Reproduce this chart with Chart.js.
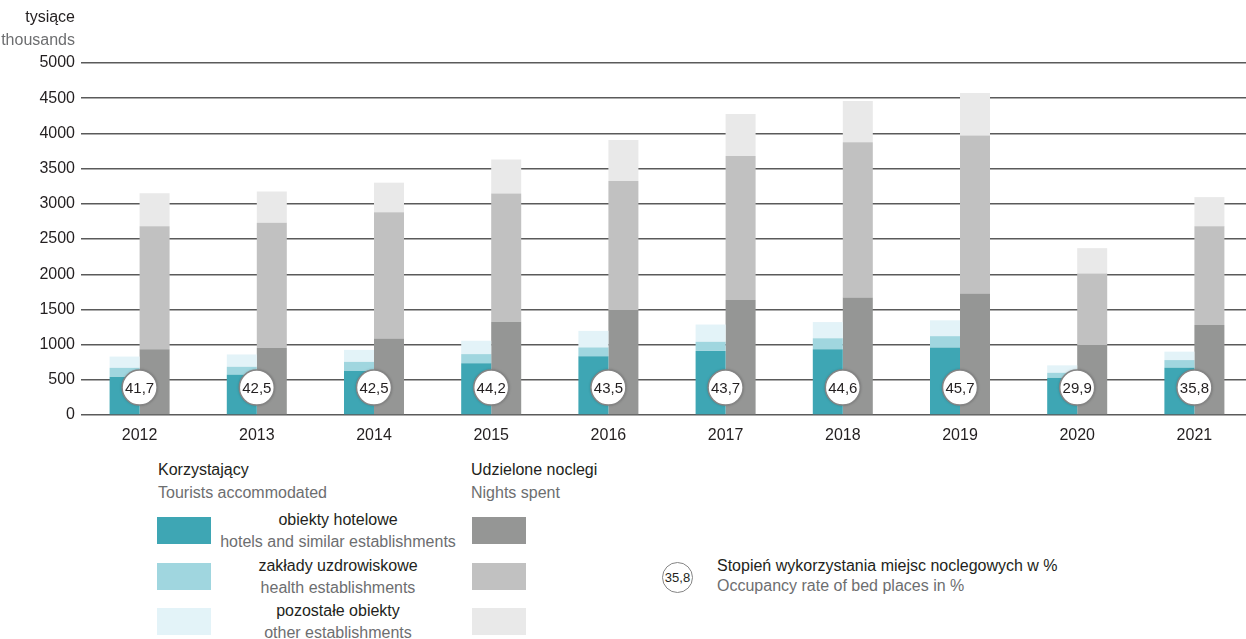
<!DOCTYPE html>
<html>
<head>
<meta charset="utf-8">
<script src="https://cdn.jsdelivr.net/npm/chart.js@4"></script>
<style>
  html, body { margin: 0; padding: 0; background: #fff; overflow: hidden; width: 1246px; height: 639px; }
  body { position: relative; font-family: "Liberation Sans", Arial, sans-serif; color: #231f20; }
  #wrap { position: absolute; left: 0; top: 0; width: 1253px; height: 452px; }
  .t { position: absolute; white-space: nowrap; font-size: 16px; line-height: 18px; }
  .en { color: #6d6e70; }
  .sw { position: absolute; width: 54px; height: 27px; }
  .c { text-align: center; width: 300px; }
</style>
</head>
<body>
<div id="wrap"><canvas id="chart"></canvas></div>

<div class="t" style="right:1171px; top:8px;">tysiące</div>
<div class="t en" style="right:1171px; top:31px;">thousands</div>

<div id="legend"></div>

<script>
const years = ["2012", "2013", "2014", "2015", "2016", "2017", "2018", "2019", "2020", "2021"];

// Korzystający / Tourists accommodated (thousands)
const touristsHotels = [545, 570, 630, 735, 835, 910, 935, 960, 530, 670];
const touristsHealth = [125, 115, 125, 130, 125, 130, 155, 160, 70, 110];
const touristsOther = [160, 175, 170, 190, 235, 245, 230, 225, 105, 120];

// Udzielone noclegi / Nights spent (thousands)
const nightsHotels = [935, 950, 1085, 1325, 1490, 1635, 1670, 1725, 995, 1280];
const nightsHealth = [1745, 1780, 1795, 1820, 1835, 2045, 2205, 2245, 1015, 1400];
const nightsOther = [470, 445, 420, 485, 580, 595, 585, 605, 360, 415];

// Stopień wykorzystania miejsc noclegowych w %
const occupancy = ["41,7", "42,5", "42,5", "44,2", "43,5", "43,7", "44,6", "45,7", "29,9", "35,8"];

const yTicks = [0, 500, 1000, 1500, 2000, 2500, 3000, 3500, 4000, 4500, 5000];

const colors = {
    tHotels: "#3ea6b4", tHealth: "#a0d6df", tOther: "#e3f3f8",
    nHotels: "#959695", nHealth: "#c1c1c1", nOther: "#e9e9e9"
};

const fontFamily = '"Liberation Sans", Arial, sans-serif';

// circles with occupancy rate, drawn at the foot of each bar pair
const circlePlugin = {
    id: "circles",
    afterDatasetsDraw(chart) {
        const c = chart.ctx;
        const xs = chart.scales.x;
        const ys = chart.scales.y;
        const yc = ys.getPixelForValue(390);
        occupancy.forEach((v, i) => {
            const x = xs.getPixelForValue(i);
            c.save();
            c.shadowColor = "rgba(0,0,0,0.35)";
            c.shadowBlur = 3;
            c.beginPath();
            c.arc(x, yc, 17.5, 0, Math.PI * 2);
            c.fillStyle = "#fff";
            c.fill();
            c.shadowColor = "transparent";
            c.lineWidth = 1.5;
            c.strokeStyle = "#858585";
            c.stroke();
            c.fillStyle = "#231f20";
            c.font = "15px " + fontFamily;
            c.textAlign = "center";
            c.textBaseline = "middle";
            c.fillText(v, x, yc + 1);
            c.restore();
        });
    }
};

const ctx = document.getElementById("chart").getContext("2d");
const chart = new Chart(ctx, {
    type: "bar",
    data: {
        labels: years,
        datasets: [
            { label: "obiekty hotelowe", data: touristsHotels, backgroundColor: colors.tHotels, stack: "t" },
            { label: "zakłady uzdrowiskowe", data: touristsHealth, backgroundColor: colors.tHealth, stack: "t" },
            { label: "pozostałe obiekty", data: touristsOther, backgroundColor: colors.tOther, stack: "t" },
            { label: "obiekty hotelowe", data: nightsHotels, backgroundColor: colors.nHotels, stack: "n" },
            { label: "zakłady uzdrowiskowe", data: nightsHealth, backgroundColor: colors.nHealth, stack: "n" },
            { label: "pozostałe obiekty", data: nightsOther, backgroundColor: colors.nOther, stack: "n" }
        ]
    },
    options: {
        responsive: true,
        maintainAspectRatio: false,
        animation: false,
        categoryPercentage: 0.512,
        barPercentage: 1.0,
        layout: { padding: { top: 63, left: 0, right: 0, bottom: 0 } },
        plugins: { legend: { display: false }, tooltip: { enabled: false } },
        scales: {
            x: {
                stacked: true,
                grid: { display: false },
                border: { display: false },
                ticks: { color: "#231f20", font: { family: fontFamily, size: 16 }, padding: 3 },
                afterFit: s => { s.height = 37; }
            },
            y: {
                stacked: true,
                min: 0,
                max: 5000,
                afterBuildTicks: s => { s.ticks = yTicks.map(v => ({ value: v })); },
                afterFit: s => { s.width = 81; },
                grid: { color: "#5a5a5a", lineWidth: 1.4, drawTicks: false },
                border: { display: false },
                ticks: { color: "#231f20", font: { family: fontFamily, size: 16 }, padding: 6, callback: v => String(v) }
            }
        }
    },
    plugins: [circlePlugin]
});

// legend built from the same colours
const legend = document.getElementById("legend");
const rows = [
    ["obiekty hotelowe", "hotels and similar establishments", colors.tHotels, colors.nHotels],
    ["zakłady uzdrowiskowe", "health establishments", colors.tHealth, colors.nHealth],
    ["pozostałe obiekty", "other establishments", colors.tOther, colors.nOther]
];
let html = '';
html += '<div class="t" style="left:158px; top:461px;">Korzystający</div>';
html += '<div class="t en" style="left:158px; top:484px;">Tourists accommodated</div>';
html += '<div class="t" style="left:471px; top:461px;">Udzielone noclegi</div>';
html += '<div class="t en" style="left:471px; top:484px;">Nights spent</div>';
rows.forEach((r, i) => {
    const top = 517 + i * 45.5;
    html += '<div class="sw" style="left:157px; top:' + top + 'px; background:' + r[2] + ';"></div>';
    html += '<div class="sw" style="left:472px; top:' + top + 'px; background:' + r[3] + ';"></div>';
    html += '<div class="t c" style="left:188px; top:' + (top - 6) + 'px;">' + r[0] + '</div>';
    html += '<div class="t c en" style="left:188px; top:' + (top + 16) + 'px;">' + r[1] + '</div>';
});
html += '<div style="position:absolute; left:662px; top:562px; width:29px; height:29px; border:1.5px solid #858585; border-radius:50%; font-size:13px; line-height:29px; text-align:center;">35,8</div>';
html += '<div class="t" style="left:717px; top:557px;">Stopień wykorzystania miejsc noclegowych w %</div>';
html += '<div class="t en" style="left:717px; top:577px;">Occupancy rate of bed places in %</div>';
legend.innerHTML = html;
</script>
</body>
</html>
